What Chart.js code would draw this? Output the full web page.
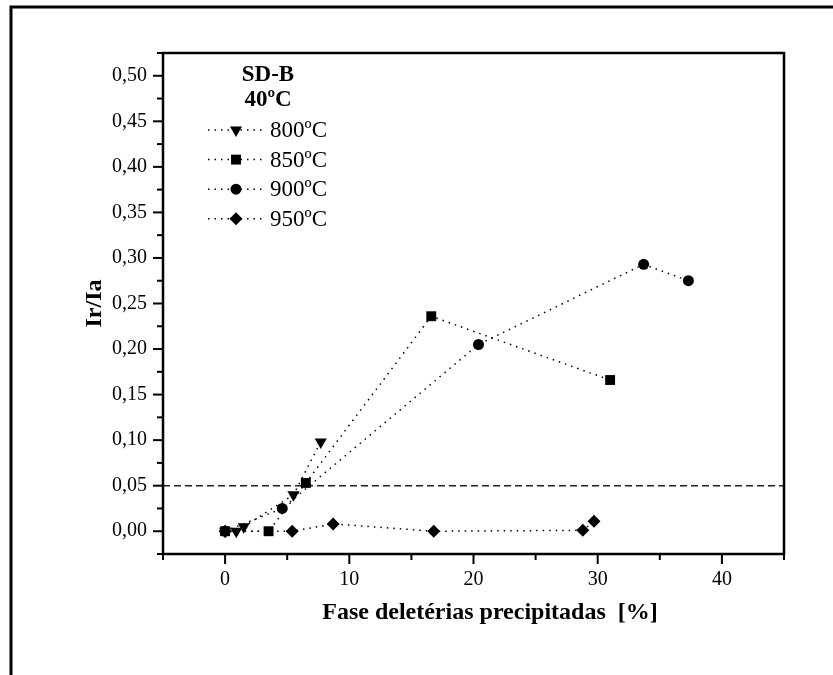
<!DOCTYPE html>
<html>
<head>
<meta charset="utf-8">
<title>SD-B 40ºC</title>
<script src="https://cdn.jsdelivr.net/npm/chart.js@4"></script>
<style>
  html, body { margin: 0; padding: 0; background: #fff; }
  #wrap { width: 833px; height: 675px; }
</style>
</head>
<body>
<div id="wrap"><canvas id="chart" width="833" height="675"></canvas></div>
<script>
/* Ir/Ia vs precipitated deleterious phases — SD-B, 40ºC */

/* ------------------------------------------------------------------ */
/* Data                                         */
/* ------------------------------------------------------------------ */
var SERIES_NAMES = ["800ºC", "850ºC", "900ºC", "950ºC"];

var X_800 = [0, 0.9, 1.5, 5.5, 7.7];
var Y_800 = [0, 0, 0.005, 0.040, 0.098];

var X_850 = [0, 3.5, 6.5, 16.6, 31.0];
var Y_850 = [0, 0, 0.053, 0.236, 0.166];

var X_900 = [0, 4.6, 20.4, 33.7, 37.3];
var Y_900 = [0, 0.025, 0.205, 0.293, 0.275];

var X_950 = [0, 5.4, 8.7, 16.8, 28.8, 29.7];
var Y_950 = [0, 0, 0.008, 0, 0.001, 0.011];

var LIMIT_Y = 0.05;

var X_TICK_VALUES = [0, 10, 20, 30, 40];
var X_TICK_LABELS = ["0", "10", "20", "30", "40"];
var Y_TICK_VALUES = [0, 0.05, 0.10, 0.15, 0.20, 0.25, 0.30, 0.35, 0.40, 0.45, 0.50];
var Y_TICK_LABELS = ["0,00", "0,05", "0,10", "0,15", "0,20", "0,25", "0,30", "0,35", "0,40", "0,45", "0,50"];

var X_TITLE = "Fase deletérias precipitadas  [%]";
var Y_TITLE = "Ir/Ia";
var LEGEND_TITLE = ["SD-B", "40ºC"];

/* ------------------------------------------------------------------ */
/* Helpers                                                             */
/* ------------------------------------------------------------------ */
var SERIF = "'Liberation Serif', 'Times New Roman', serif";

function pts(xs, ys) {
  return xs.map(function (x, i) { return { x: x, y: ys[i] }; });
}

function findLabel(values, labels, v) {
  for (var i = 0; i < values.length; i++) {
    if (Math.abs(values[i] - v) < 1e-6) return labels[i];
  }
  return "";
}

var STYLES = [
  { pointStyle: "triangle", radius: 7, rotation: 180 },
  { pointStyle: "rect", radius: 7, rotation: 0 },
  { pointStyle: "circle", radius: 5.5, rotation: 0 },
  { pointStyle: "rectRot", radius: 6.5, rotation: 0 },
];

function series(label, data, st) {
  return {
    label: label,
    data: data,
    borderColor: "#000",
    backgroundColor: "#000",
    borderWidth: 1.5,
    borderDash: [1.5, 5],
    pointStyle: st.pointStyle,
    pointRadius: st.radius,
    pointRotation: st.rotation,
    pointBorderWidth: 0,
    pointBackgroundColor: "#000",
    tension: 0,
  };
}

/* ------------------------------------------------------------------ */
/* Frame, ticks, titles, legend                                        */
/* ------------------------------------------------------------------ */
var decor = {
  id: "decor",
  afterDraw: function (chart) {
    var ctx = chart.ctx, a = chart.chartArea;
    var xs = chart.scales.x, ys = chart.scales.y;
    ctx.save();
    ctx.strokeStyle = "#000";
    ctx.fillStyle = "#000";

    // outer picture frame
    ctx.lineWidth = 3;
    ctx.beginPath();
    ctx.moveTo(11, 675); ctx.lineTo(11, 7); ctx.lineTo(833, 7);
    ctx.stroke();

    // plot box
    ctx.lineWidth = 2.5;
    ctx.strokeRect(a.left, a.top, a.right - a.left, a.bottom - a.top);

    // tick marks (outward)
    ctx.lineWidth = 2;
    ys.ticks.forEach(function (t) {
      var p = ys.getPixelForValue(t.value);
      var len = findLabel(Y_TICK_VALUES, Y_TICK_LABELS, t.value) ? 10 : 6;
      ctx.beginPath(); ctx.moveTo(a.left - len, p); ctx.lineTo(a.left, p); ctx.stroke();
    });
    xs.ticks.forEach(function (t) {
      var p = xs.getPixelForValue(t.value);
      var len = findLabel(X_TICK_VALUES, X_TICK_LABELS, t.value) ? 10 : 6;
      ctx.beginPath(); ctx.moveTo(p, a.bottom); ctx.lineTo(p, a.bottom + len); ctx.stroke();
    });

    // axis titles
    ctx.font = "bold 24px " + SERIF;
    ctx.textAlign = "center";
    ctx.textBaseline = "middle";
    ctx.fillText(X_TITLE, 490, 613);
    ctx.save();
    ctx.translate(95, (a.top + a.bottom) / 2);
    ctx.rotate(-Math.PI / 2);
    ctx.fillText(Y_TITLE, 0, 0);
    ctx.restore();

    // legend
    ctx.font = "bold 23px " + SERIF;
    ctx.fillText(LEGEND_TITLE[0], 268, 75);
    ctx.fillText(LEGEND_TITLE[1], 268, 100);
    ctx.font = "23px " + SERIF;
    ctx.textAlign = "left";
    SERIES_NAMES.forEach(function (name, i) {
      var y = 130 + 29.6 * i;
      ctx.lineWidth = 1.5;
      ctx.setLineDash([1.5, 5]);
      ctx.beginPath(); ctx.moveTo(208, y); ctx.lineTo(262, y); ctx.stroke();
      ctx.setLineDash([]);
      var st = STYLES[i];
      if (Chart.helpers && Chart.helpers.drawPoint) {
        Chart.helpers.drawPoint(ctx, { pointStyle: st.pointStyle, radius: st.radius, rotation: st.rotation, borderWidth: 0 }, 236, y);
      }
      ctx.fillText(name, 270, y + 1);
    });
    ctx.restore();
  },
};

/* ------------------------------------------------------------------ */
/* Chart                                                               */
/* ------------------------------------------------------------------ */
var el = document.getElementById("chart");
new Chart(el, {
  type: "line",
  data: {
    datasets: [
      series(SERIES_NAMES[0], pts(X_800, Y_800), STYLES[0]),
      series(SERIES_NAMES[1], pts(X_850, Y_850), STYLES[1]),
      series(SERIES_NAMES[2], pts(X_900, Y_900), STYLES[2]),
      series(SERIES_NAMES[3], pts(X_950, Y_950), STYLES[3]),
      {
        label: "limite",
        data: [{ x: -5, y: LIMIT_Y }, { x: 45, y: LIMIT_Y }],
        borderColor: "#222",
        borderWidth: 1.5,
        borderDash: [7, 4],
        pointRadius: 0,
      },
    ],
  },
  options: {
    responsive: false,
    animation: false,
    layout: { padding: { left: 0, top: 53, right: 49, bottom: 0 } },
    plugins: { legend: { display: false }, tooltip: { enabled: false } },
    scales: {
      x: {
        type: "linear",
        min: -5, max: 45,
        grid: { display: false, drawTicks: false },
        border: { display: false },
        afterFit: function (s) { s.height = 121; },
        ticks: {
          stepSize: 5, autoSkip: false, maxRotation: 0, padding: 14, color: "#000",
          font: { family: SERIF, size: 20 },
          callback: function (v) { return findLabel(X_TICK_VALUES, X_TICK_LABELS, v); },
        },
      },
      y: {
        type: "linear",
        min: -0.025, max: 0.525,
        grid: { display: false, drawTicks: false },
        border: { display: false },
        afterFit: function (s) { s.width = 163; },
        ticks: {
          stepSize: 0.025, autoSkip: false, padding: 16, color: "#000",
          font: { family: SERIF, size: 20 },
          callback: function (v) { return findLabel(Y_TICK_VALUES, Y_TICK_LABELS, v); },
        },
      },
    },
  },
  plugins: [decor],
});
</script>
</body>
</html>
